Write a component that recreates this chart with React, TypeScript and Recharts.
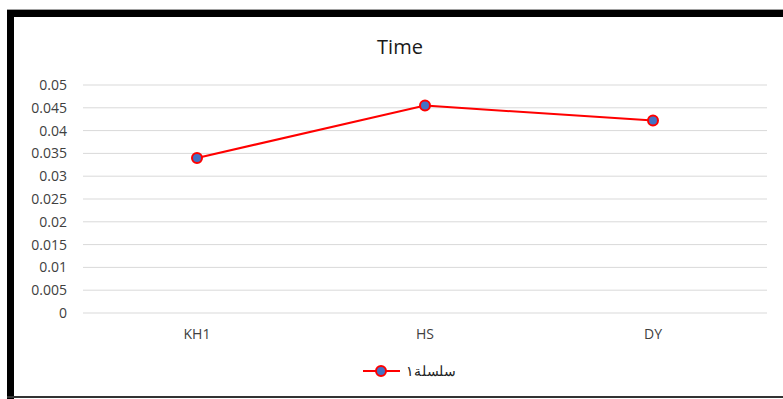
import React from "react";
import {
  LineChart,
  Line,
  XAxis,
  YAxis,
  CartesianGrid,
  Legend,
} from "recharts";

const categories = ["KH1", "HS", "DY"];
const timeValues = [0.034, 0.0455, 0.0422];
const yTicks = [0, 0.005, 0.01, 0.015, 0.02, 0.025, 0.03, 0.035, 0.04, 0.045, 0.05];
const seriesName = "سلسلة١";

const data = categories.map((name, i) => ({ name, value: timeValues[i] }));

const FONT = "'Open Sans', 'DejaVu Sans', sans-serif";
const RED = "#ff0000";
const BLUE = "#4472c4";

const renderLegend = () => (
  <div
    style={{
      display: "flex",
      justifyContent: "center",
      alignItems: "center",
      paddingLeft: 34,
      fontFamily: "'DejaVu Serif', serif",
      fontSize: 14,
      color: "#222",
    }}
  >
    <svg width={40} height={14} style={{ marginRight: 4 }}>
      <line x1={1} y1={7} x2={38} y2={7} stroke={RED} strokeWidth={2} />
      <circle cx={19} cy={7} r={5} fill={BLUE} stroke={RED} strokeWidth={2} />
    </svg>
    <span>{seriesName}</span>
  </div>
);

export default function App() {
  return (
    <div
      style={{
        position: "absolute",
        left: 0,
        top: 0,
        width: 783,
        height: 399,
        background: "#fff",
        overflow: "hidden",
      }}
    >
      {/* frame around the chart area */}
      <div style={{ position: "absolute", left: 7, top: 9, width: 776, height: 1, background: "#a0a0a0" }} />
      <div style={{ position: "absolute", left: 7, top: 10, width: 776, height: 7, background: "#000" }} />
      <div style={{ position: "absolute", left: 7, top: 10, width: 7, height: 389, background: "#000" }} />
      <div style={{ position: "absolute", left: 7, top: 396, width: 776, height: 2, background: "#333" }} />

      <div
        style={{
          position: "absolute",
          left: 0,
          top: 33,
          width: 800,
          textAlign: "center",
          fontFamily: FONT,
          fontSize: 20,
          color: "#1a1a1a",
        }}
      >
        Time
      </div>

      <LineChart
        width={783}
        height={399}
        data={data}
        margin={{ top: 85, right: 16, left: 0, bottom: 44 }}
        style={{ position: "absolute", left: 0, top: 0 }}
      >
        <CartesianGrid vertical={false} stroke="#d9d9d9" />
        <XAxis
          dataKey="name"
          axisLine={false}
          tickLine={false}
          tickMargin={10}
          height={26}
          padding={{ left: 114, right: 114 }}
          tick={{ fill: "#404040", fontSize: 14, fontFamily: FONT }}
        />
        <YAxis
          width={83}
          domain={[0, 0.05]}
          ticks={yTicks}
          interval={0}
          axisLine={false}
          tickLine={false}
          tickMargin={10}
          tick={{ fill: "#404040", fontSize: 14, fontFamily: FONT }}
        />
        <Legend
          verticalAlign="bottom"
          content={renderLegend}
          wrapperStyle={{ bottom: 20, left: 0, width: 783 }}
        />
        <Line
          type="linear"
          dataKey="value"
          name={seriesName}
          stroke={RED}
          strokeWidth={2}
          dot={{ r: 5, fill: BLUE, stroke: RED, strokeWidth: 2 }}
          isAnimationActive={false}
        />
      </LineChart>
    </div>
  );
}
